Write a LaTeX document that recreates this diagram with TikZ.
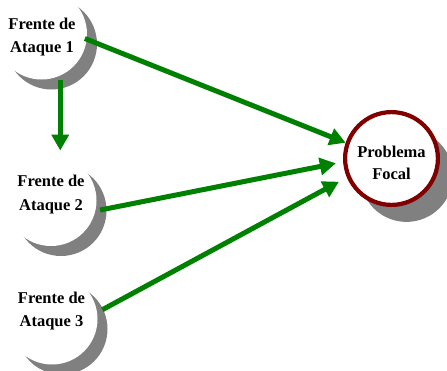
\documentclass[tikz,border=0pt]{standalone}
\usepackage{fontspec}
\setmainfont{Liberation Serif}
\usetikzlibrary{arrows.meta,shapes,shadows}
\definecolor{leafgreen}{RGB}{0,128,0}
\definecolor{ringred}{RGB}{128,0,0}
\definecolor{moongray}{RGB}{128,128,128}

\begin{document}
\begin{tikzpicture}[
x=1pt, y=-1pt,
font=\bfseries\fontsize{16.5}{23.5}\selectfont,
front/.style={circle, fill=white, minimum size=91pt, inner sep=0pt, outer sep=4.5pt,
    general shadow={shadow xshift=10pt, shadow yshift=-10pt, fill=moongray}},
focus/.style={circle, draw=ringred, line width=4.2pt, fill=white, minimum size=92.8pt, inner sep=0pt,
    general shadow={shadow xshift=15pt, shadow yshift=-17pt, fill=moongray}},
caption/.style={align=center, inner sep=0pt, text depth=0pt},
post/.style={-{Triangle[width=17pt,length=16pt]}, line width=5pt, draw=leafgreen}
]
\useasboundingbox (0,0) rectangle (447,370);

\node[front] (f1) at (41.5,34) {};
\node[front] (f2) at (51,200.5) {};
\node[front] (f3) at (52,319) {};
\node[focus] (pf) at (391.5,158.5) {};

\node[caption] (t1) at (42,35.2) {Frente de\\Ataque 1};
\node[caption] (t2) at (51,193) {Frente de\\Ataque 2};
\node[caption] (t3) at (51.5,309.4) {Frente de\\Ataque 3};
\node[caption, font=\bfseries\fontsize{16.5}{21.5}\selectfont] (tp) at (391.5,163) {Problema\\Focal};

% connectors
\draw[post] (f1.-68) -- (f1.-68 |- f2.north);
\draw[post, shorten <=-6.6pt] (f1.-8) -- (pf.161);
\draw[post, shorten >=7.4pt] (f2.-11) -- (pf.-176.7);
\draw[post, shorten <=1.3pt, shorten >=9pt] (f3.10) -- (pf.-157.3);

\end{tikzpicture}
\end{document}
